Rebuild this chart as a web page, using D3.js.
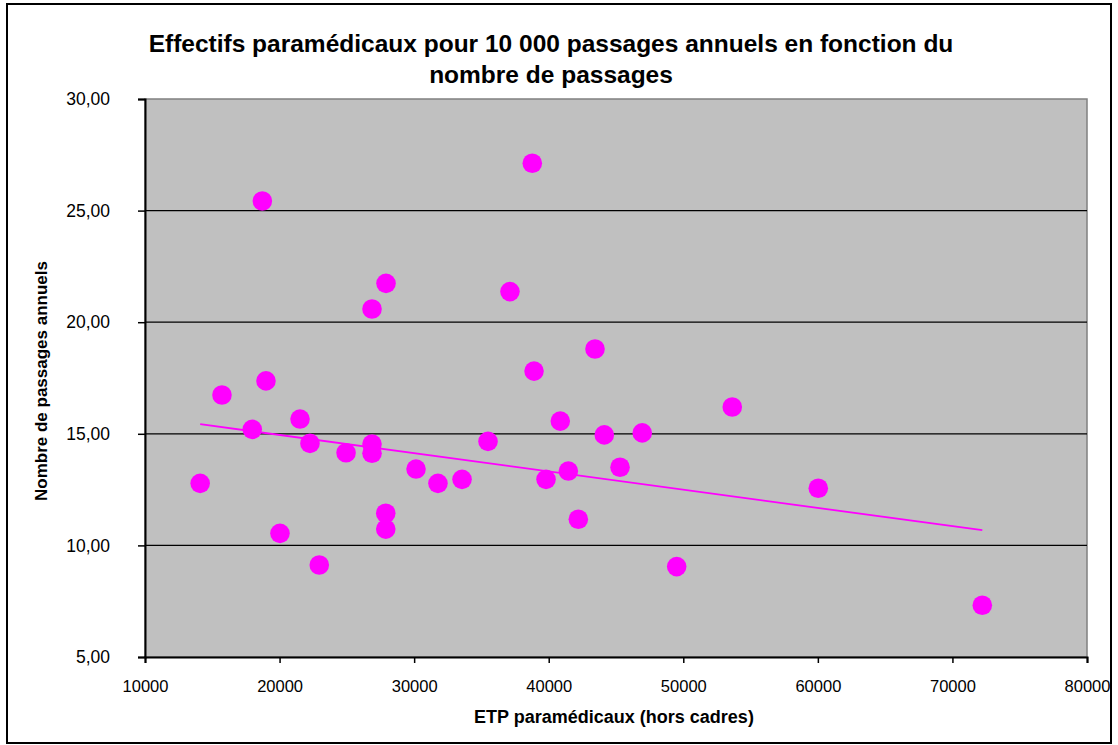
<!DOCTYPE html>
<html>
<head>
<meta charset="utf-8">
<script src="https://cdn.jsdelivr.net/npm/d3@7"></script>
<style>
  html, body { margin: 0; padding: 0; background: #fff; }
  svg { display: block; font-family: "Liberation Sans", Arial, sans-serif; }
</style>
</head>
<body>
<svg id="chart" width="1118" height="745"></svg>
<script>
// ETP paramédicaux (hors cadres) per site
const etp = [
  14100, 15720, 17970, 18720, 18990, 20030, 21520, 22260, 22950, 24940,
  26870, 26870, 26870, 27910, 27890, 27890, 30140, 31770, 33560, 35490,
  37120, 38780, 38910, 39800, 40860, 41460, 42200, 43440, 44130, 45300,
  46950, 49510, 53640, 60030, 72220
];
// Effectifs paramédicaux pour 10 000 passages annuels, same order
const ratio = [
  12.78, 16.74, 15.20, 25.43, 17.37, 10.54, 15.66, 14.57, 9.12, 14.15,
  14.54, 14.13, 20.59, 21.74, 11.44, 10.73, 13.42, 12.78, 12.96, 14.66,
  21.37, 27.12, 17.81, 12.96, 15.57, 13.33, 11.17, 18.80, 14.95, 13.50,
  15.04, 9.05, 16.20, 12.56, 7.32
];
// linear trendline end points
const trendX = [14100, 72220];
const trendY = [15.43, 10.68];

const xTicks = [10000, 20000, 30000, 40000, 50000, 60000, 70000, 80000];
const yTicks = [5, 10, 15, 20, 25, 30];

const titleLines = [
  "Effectifs paramédicaux pour 10 000 passages annuels en fonction du",
  "nombre de passages"
];
const xTitle = "ETP paramédicaux (hors cadres)";
const yTitle = "Nombre de passages annuels";

const svg = d3.select("#chart");
const W = 1118, H = 745;
const plot = { left: 145, top: 99, right: 1087, bottom: 657 };

// outer frame
svg.append("rect")
  .attr("x", 7).attr("y", 4).attr("width", W - 14).attr("height", H - 6)
  .attr("fill", "#fff").attr("stroke", "#000").attr("stroke-width", 2);

const x = d3.scaleLinear().domain([10000, 80000]).range([plot.left, plot.right]);
const y = d3.scaleLinear().domain([5, 30]).range([plot.bottom, plot.top]);
const fmt = d3.format(".2f");

// plot background
svg.append("rect")
  .attr("x", plot.left).attr("y", plot.top)
  .attr("width", plot.right - plot.left).attr("height", plot.bottom - plot.top)
  .attr("fill", "#c0c0c0").attr("stroke", "#808080").attr("stroke-width", 1.5);

// horizontal gridlines
svg.append("g").selectAll("line")
  .data(yTicks.filter(v => v > 5 && v < 30))
  .join("line")
  .attr("x1", plot.left).attr("x2", plot.right)
  .attr("y1", d => y(d)).attr("y2", d => y(d))
  .attr("stroke", "#000").attr("stroke-width", 1.2);

// axes
const yAxis = svg.append("g")
  .attr("transform", `translate(${plot.left},0)`)
  .call(d3.axisLeft(y).tickValues(yTicks).tickSize(7).tickPadding(28)
    .tickFormat(d => fmt(d).replace(".", ",")));
const xAxis = svg.append("g")
  .attr("transform", `translate(0,${plot.bottom})`)
  .call(d3.axisBottom(x).tickValues(xTicks).tickSize(6).tickPadding(17)
    .tickFormat(d3.format("d")));
[yAxis, xAxis].forEach(g => {
  g.select(".domain").attr("stroke", "#000").attr("stroke-width", 2);
  g.selectAll(".tick line").attr("stroke", "#000").attr("stroke-width", 1.5);
  g.selectAll(".tick text")
    .attr("fill", "#000")
    .style("font-family", "'Liberation Sans', Arial, sans-serif");
});
yAxis.selectAll(".tick text").style("font-size", "17.5px");
xAxis.selectAll(".tick text").style("font-size", "16.5px");

// trendline
svg.append("line")
  .attr("x1", x(trendX[0])).attr("y1", y(trendY[0]))
  .attr("x2", x(trendX[1])).attr("y2", y(trendY[1]))
  .attr("stroke", "#ff00ff").attr("stroke-width", 1.8);

// points
svg.append("g").selectAll("circle")
  .data(etp.map((v, i) => [v, ratio[i]]))
  .join("circle")
  .attr("cx", d => x(d[0])).attr("cy", d => y(d[1]))
  .attr("r", 9.8)
  .attr("fill", "#ff00ff");

// titles
svg.append("g").selectAll("text")
  .data(titleLines)
  .join("text")
  .attr("x", 551).attr("y", (d, i) => 52 + i * 31)
  .attr("text-anchor", "middle")
  .style("font-size", "24.5px").style("font-weight", "bold")
  .text(d => d);

svg.append("text")
  .attr("x", 614).attr("y", 723)
  .attr("text-anchor", "middle")
  .style("font-size", "18px").style("font-weight", "bold")
  .text(xTitle);

svg.append("text")
  .attr("transform", "translate(47,381) rotate(-90)")
  .attr("text-anchor", "middle")
  .style("font-size", "17px").style("font-weight", "bold")
  .text(yTitle);
</script>
</body>
</html>
